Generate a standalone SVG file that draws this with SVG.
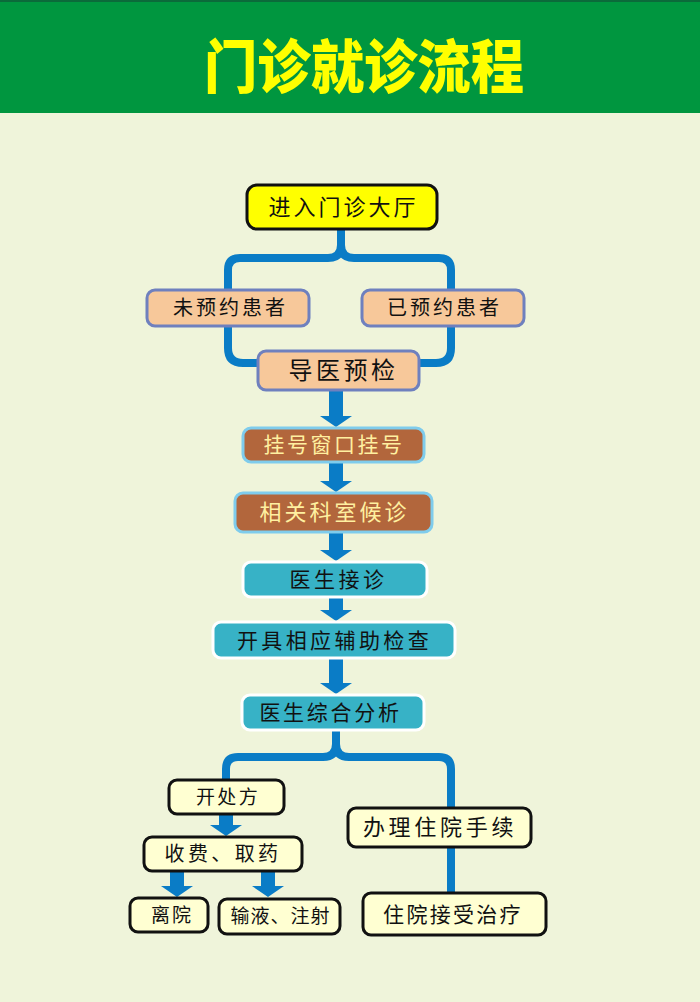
<svg xmlns="http://www.w3.org/2000/svg" width="700" height="1002" viewBox="0 0 700 1002">
<defs>
<style>
.t{font-family:"Noto Sans CJK SC","Noto Sans",sans-serif;font-size:21px;text-anchor:middle;fill:#111;letter-spacing:3px}
.y{fill:#FFFF00;stroke:#111;stroke-width:3}
.p{fill:#F7C89A;stroke:#6F80BE;stroke-width:3}
.b{fill:#B2663C;stroke:#7FCCEC;stroke-width:3}
.c{fill:#37B2C6;stroke:#FFFFFF;stroke-width:3}
.w{fill:#FFFFD2;stroke:#111;stroke-width:3}
.ln{fill:none;stroke:#0A7CC6;stroke-width:8}
.ar{fill:#0A7CC6}
</style>
</defs>
<rect x="0" y="0" width="700" height="1002" fill="#EFF4DA"/>
<rect x="0" y="0" width="700" height="113" fill="#00963F"/>
<rect x="0" y="0" width="700" height="2" fill="#0B6A3A"/>
<text x="0" y="0" transform="translate(364,88) scale(0.92,1)" font-family="Noto Sans CJK SC,sans-serif" font-size="58" font-weight="900" fill="#FFFF00" text-anchor="middle">门诊就诊流程</text>

<g id="connectors">
<path class="ln" d="M341,229 V245 Q341,258 328,258 H240 Q228,258 228,270 V290"/>
<path class="ln" d="M341,245 Q341,258 354,258 H439 Q451,258 451,270 V290"/>
<path class="ln" d="M228,326 V348 Q228,363 243,363 H258"/>
<path class="ln" d="M451,326 V348 Q451,363 436,363 H420"/>
<path class="ar" d="M329,390 H343 V416 H352 L336,427 L320,416 H329 Z"/>
<path class="ar" d="M329,462 H343 V481 H352 L336,492 L320,481 H329 Z"/>
<path class="ar" d="M329,532 H343 V550 H352 L336,561 L320,550 H329 Z"/>
<path class="ar" d="M329,597 H343 V610 H352 L336,621 L320,610 H329 Z"/>
<path class="ar" d="M329,658 H343 V683 H352 L336,694 L320,683 H329 Z"/>
<path class="ln" d="M336,730 V744 Q336,757 323,757 H238 Q226,757 226,769 V780"/>
<path class="ln" d="M336,744 Q336,757 349,757 H439 Q451,757 451,769 V808"/>
<path class="ar" d="M219,814 H233 V825 H242 L226,836 L210,825 H219 Z"/>
<path class="ar" d="M170,871 H184 V886 H193 L177,897 L161,886 H170 Z"/>
<path class="ar" d="M261,871 H275 V886 H284 L268,897 L252,886 H261 Z"/>
<path class="ln" d="M451,847 V892"/>
</g>

<g id="n1"><rect class="y" x="247" y="185" width="190" height="44" rx="10"/><text class="t" x="343.5" y="215" style="font-size:22px">进入门诊大厅</text></g>
<g id="n2"><rect class="p" x="147" y="290" width="162" height="36" rx="8"/><text class="t" x="230.5" y="315" style="font-size:20px">未预约患者</text></g>
<g id="n3"><rect class="p" x="362" y="290" width="162" height="36" rx="8"/><text class="t" x="444.5" y="315" style="font-size:20px">已预约患者</text></g>
<g id="n4"><rect class="p" x="258" y="351" width="161" height="39" rx="8"/><text class="t" x="343.5" y="379" style="font-size:24px;letter-spacing:3.5px">导医预检</text></g>
<g id="n5"><rect class="b" x="243" y="428" width="181" height="34" rx="8"/><text class="t" x="334" y="452" style="fill:#FFF0A0;letter-spacing:2.5px">挂号窗口挂号</text></g>
<g id="n6"><rect class="b" x="235" y="493" width="197" height="39" rx="8"/><text class="t" x="334.5" y="520" style="fill:#FFF0A0;font-size:22px">相关科室候诊</text></g>
<g id="n7"><rect class="c" x="243" y="562" width="184" height="35" rx="8"/><text class="t" x="338.5" y="587" style="letter-spacing:3.5px">医生接诊</text></g>
<g id="n8"><rect class="c" x="213" y="622" width="242" height="36" rx="8"/><text class="t" x="334.5" y="648" style="letter-spacing:3.4px">开具相应辅助检查</text></g>
<g id="n9"><rect class="c" x="242" y="695" width="182" height="35" rx="8"/><text class="t" x="330.5" y="720" style="letter-spacing:2.7px">医生综合分析</text></g>
<g id="n10"><rect class="w" x="169" y="780" width="115" height="34" rx="8"/><text class="t" x="228" y="804" style="font-size:19px;letter-spacing:2.3px">开处方</text></g>
<g id="n11"><rect class="w" x="144" y="837" width="158" height="34" rx="8"/><text class="t" x="223" y="861" style="font-size:20px;letter-spacing:3.4px">收费、取药</text></g>
<g id="n12"><rect class="w" x="130" y="898" width="78" height="34" rx="8"/><text class="t" x="172" y="922" style="font-size:19px;letter-spacing:2px">离院</text></g>
<g id="n13"><rect class="w" x="219" y="899" width="121" height="35" rx="8"/><text class="t" x="280.5" y="923" style="font-size:19px;letter-spacing:1px">输液、注射</text></g>
<g id="n14"><rect class="w" x="348" y="808" width="183" height="39" rx="8"/><text class="t" x="440" y="835" style="font-size:22px;letter-spacing:3.7px">办理住院手续</text></g>
<g id="n15"><rect class="w" x="363" y="893" width="183" height="42" rx="8"/><text class="t" x="453" y="922" style="letter-spacing:2.3px">住院接受治疗</text></g>
</svg>
